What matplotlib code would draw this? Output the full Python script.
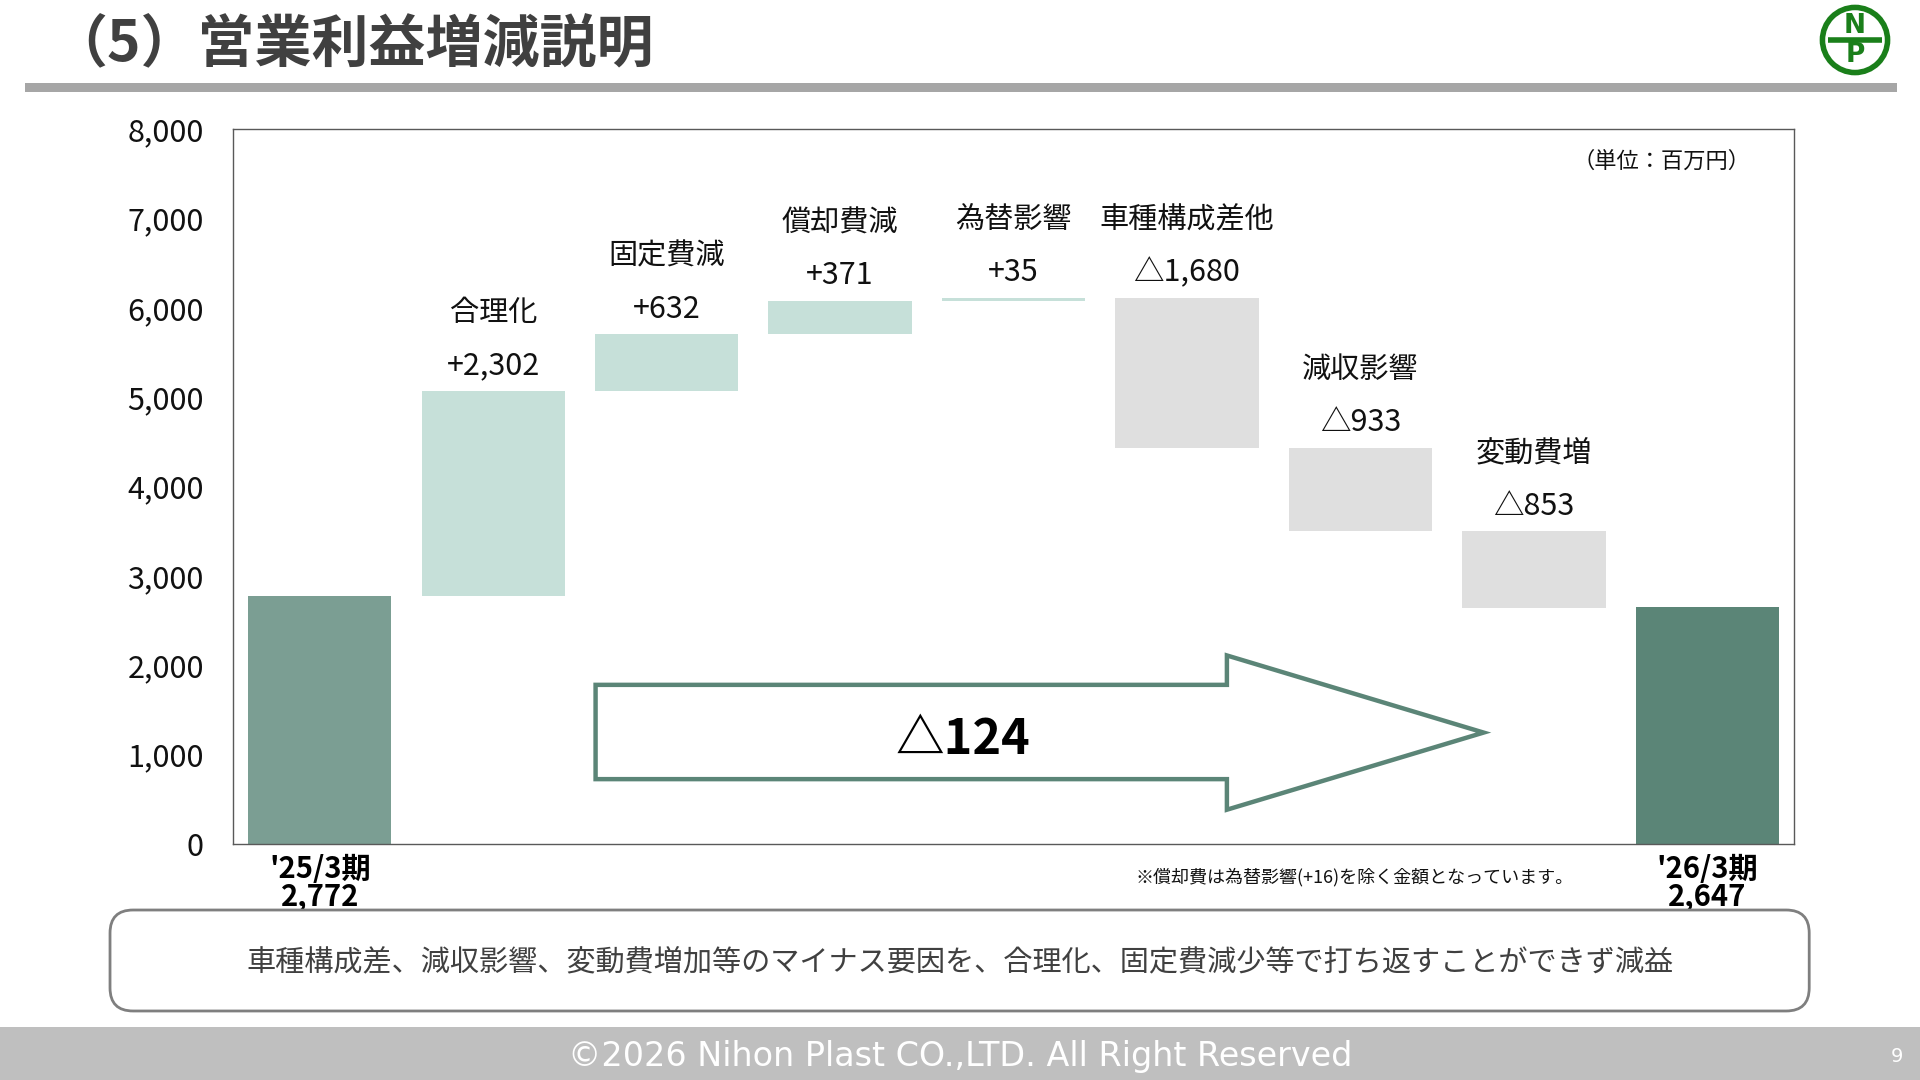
import matplotlib.pyplot as plt
from matplotlib.patches import Polygon, Rectangle, FancyBboxPatch, Circle

plt.rcParams['font.family'] = ['Noto Sans CJK JP', 'DejaVu Sans']

# Data (単位: 百万円)
start_label = "'25/3期"
end_label = "'26/3期"
start_value = 2772
end_value = 2647
step_names = ['合理化', '固定費減', '償却費減', '為替影響', '車種構成差他', '減収影響', '変動費増']
step_deltas = [2302, 632, 371, 35, -1680, -933, -853]
total_change = -124

c_start = '#7b9e93'
c_end = '#5b8577'
c_up = '#c6e0d9'
c_down = '#dfdfdf'

fig = plt.figure(figsize=(19.2, 10.8), dpi=100)
ax = fig.add_axes([0.1214, 0.2185, 0.813, 0.662])

n = len(step_deltas) + 2
w = 0.826

# start / end bars
ax.bar(0, start_value, width=w, color=c_start)
ax.bar(n - 1, end_value, width=w, color=c_end)

# floating steps
cum = start_value
for i, (name, d) in enumerate(zip(step_names, step_deltas), start=1):
    lo = min(cum, cum + d)
    hi = max(cum, cum + d)
    ax.bar(i, hi - lo, bottom=lo, width=w, color=c_up if d > 0 else c_down)
    txt = f'+{d:,}' if d > 0 else f'△{-d:,}'
    ax.annotate(txt, (i, hi), xytext=(0, 18), textcoords='offset points',
                ha='center', va='center', fontsize=22, color='#111111')
    ax.annotate(name, (i, hi), xytext=(0, 56), textcoords='offset points',
                ha='center', va='center', fontsize=21, color='#111111')
    cum += d

ax.set_xlim(-0.5, n - 0.5)
ax.set_ylim(0, 8000)
ax.set_yticks(range(0, 8001, 1000))
ax.set_yticklabels([f'{v:,}' for v in range(0, 8001, 1000)], fontsize=22, color='#111111')
xt_labels = [''] * n
xt_labels[0] = f'{start_label}\n{start_value:,}'
xt_labels[-1] = f'{end_label}\n{end_value:,}'
ax.set_xticks(range(n))
ax.set_xticklabels(xt_labels, fontsize=21, fontweight='bold', linespacing=0.9)
ax.tick_params(axis='y', length=0, pad=21)
ax.tick_params(axis='x', length=0, pad=7)
for s in ax.spines.values():
    s.set_color('#595959')
    s.set_linewidth(1.0)

# total change arrow
arrow = Polygon([(1.59, 1781), (5.23, 1781), (5.23, 2110), (6.71, 1247),
                 (5.23, 384), (5.23, 726), (1.59, 726)],
                closed=True, facecolor='white', edgecolor=c_end, linewidth=3.2, zorder=3)
ax.add_patch(arrow)
ax.text(3.71, 1170, f'△{-total_change}', ha='center', va='center',
        fontsize=35, fontweight='bold', color='black', zorder=4)

ax.text(0.972, 0.955, '（単位：百万円）', transform=ax.transAxes, ha='right', va='center',
        fontsize=16, color='#111111')
fig.text(0.8195, 0.188, '※償却費は為替影響(+16)を除く金額となっています。', ha='right', va='center',
         fontsize=13, color='#111111')

# title and header line
fig.text(0.026, 0.958, '（5）営業利益増減説明', ha='left', va='center',
         fontsize=41, fontweight='bold', color='#404040')
fig.patches.append(Rectangle((0.013, 0.9148), 0.975, 0.0083, transform=fig.transFigure,
                             facecolor='#a6a6a6', edgecolor='none'))

# logo
lax = fig.add_axes([1818 / 1920, 1 - 77 / 1080, 74 / 1920, 74 / 1080])
lax.set_xlim(0, 1)
lax.set_ylim(0, 1)
lax.axis('off')
lax.add_patch(Circle((0.5, 0.5), 0.44, fill=False, edgecolor='#1a7f1a', linewidth=4))
lax.plot([0.14, 0.86], [0.5, 0.5], color='#1a7f1a', linewidth=4, solid_capstyle='butt')
lax.text(0.5, 0.69, 'N', ha='center', va='center', fontsize=19, fontweight='bold', color='#1a7f1a',
         family='DejaVu Sans')
lax.text(0.5, 0.30, 'P', ha='center', va='center', fontsize=19, fontweight='bold', color='#1a7f1a',
         family='DejaVu Sans')

# summary box
box = FancyBboxPatch((0.0573, 0.0639), 0.885, 0.0935, transform=fig.transFigure,
                     boxstyle='round,pad=0,rounding_size=0.012', mutation_aspect=1.78,
                     facecolor='white', edgecolor='#7f7f7f', linewidth=2)
fig.patches.append(box)
fig.text(0.5, 0.109, '車種構成差、減収影響、変動費増加等のマイナス要因を、合理化、固定費減少等で打ち返すことができず減益',
         ha='center', va='center', fontsize=21, color='#404040')

# footer
fig.patches.append(Rectangle((0, 0), 1, 53 / 1080, transform=fig.transFigure,
                             facecolor='#bfbfbf', edgecolor='none'))
fig.text(0.5, 0.022, '©2026 Nihon Plast CO.,LTD. All Right Reserved', ha='center', va='center',
         fontsize=24, color='white', family='DejaVu Sans')
fig.text(0.988, 0.022, '9', ha='center', va='center', fontsize=14, color='white', family='DejaVu Sans')

fig.savefig('out.png', dpi=100)
